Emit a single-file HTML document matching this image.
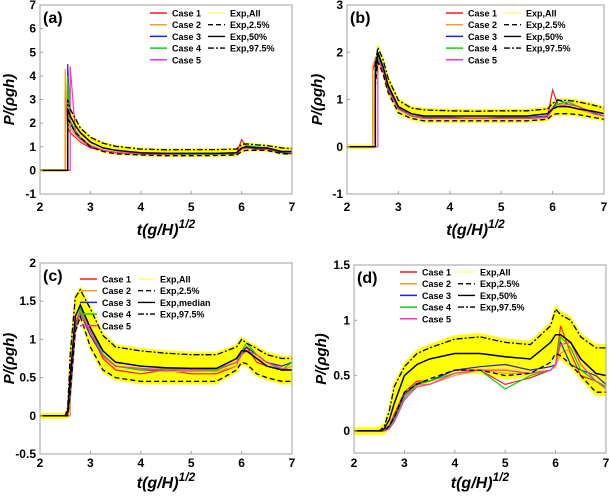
<!DOCTYPE html>
<html><head><meta charset="utf-8">
<style>
body{margin:0;background:#fff;}
svg text{font-family:"Liberation Sans",sans-serif;font-weight:bold;}
</style></head>
<body>
<svg id="fig" width="609" height="492" xmlns="http://www.w3.org/2000/svg"></svg>
<script>
const T = [2,2.5,2.55,2.6,2.7,2.8,3,3.25,3.5,4,4.5,5,5.5,5.9,6,6.1,6.3,6.5,6.8,7];
const xTicks = [2,3,4,5,6,7];
// panel a
const aMed=[0,0,2.6,2.3,1.9,1.6,1.2,0.95,0.85,0.75,0.72,0.72,0.72,0.75,0.95,1.0,0.95,0.95,0.8,0.8];
const aLo=[0,0,2.2,2.0,1.6,1.4,1.0,0.8,0.7,0.65,0.62,0.62,0.63,0.65,0.8,0.85,0.85,0.85,0.7,0.7];
const aHi=[0,0,3.0,2.6,2.2,1.8,1.4,1.15,1.02,0.9,0.87,0.88,0.88,0.9,1.1,1.12,1.08,1.05,0.95,0.92];
const aC1=[0,3.4,1.8,1.6,1.4,1.2,0.95,0.85,0.75,0.7,0.68,0.7,0.7,0.72,1.3,1.0,0.9,0.9,0.75,0.75];
const aC2=[0,4.3,2.0,1.8,1.5,1.3,1.0,0.85,0.78,0.7,0.7,0.7,0.7,0.72,0.95,1.05,0.95,0.95,0.8,0.75];
const aC3=[0,0,4.5,2.0,1.6,1.35,1.0,0.85,0.75,0.7,0.68,0.7,0.68,0.7,0.9,0.95,0.9,0.9,0.75,0.7];
const aC4=[0,0,4.0,2.1,1.7,1.4,1.05,0.85,0.75,0.68,0.67,0.68,0.68,0.7,0.9,1.05,1.0,0.95,0.8,0.75];
const aC5=[0,0,0,4.4,1.7,1.4,1.05,0.85,0.75,0.7,0.68,0.7,0.7,0.72,0.9,0.95,0.92,0.9,0.8,0.75];
const aYTicks=[-1,0,1,2,3,4,5,6,7];
// panel b
const bMed=[0,0,1.5,2.0,1.7,1.3,0.85,0.7,0.65,0.65,0.65,0.65,0.65,0.7,0.8,0.85,0.85,0.8,0.75,0.7];
const bLo=[0,0,1.3,1.8,1.55,1.15,0.72,0.6,0.55,0.55,0.55,0.55,0.55,0.58,0.68,0.7,0.7,0.68,0.62,0.58];
const bHi=[0,0,1.7,2.1,1.85,1.45,0.98,0.82,0.78,0.76,0.75,0.76,0.76,0.8,0.92,0.98,0.98,0.95,0.88,0.82];
const bC1=[0,1.6,1.8,1.9,1.6,1.2,0.8,0.65,0.6,0.6,0.6,0.6,0.6,0.62,1.2,0.9,0.85,0.8,0.7,0.65];
const bC2=[0,1.7,1.9,1.9,1.6,1.2,0.8,0.65,0.6,0.6,0.62,0.6,0.6,0.65,0.85,0.9,0.85,0.8,0.7,0.65];
const bC3=[0,0,1.8,1.95,1.65,1.25,0.82,0.66,0.62,0.62,0.6,0.62,0.62,0.65,0.8,1.0,0.9,0.85,0.72,0.65];
const bC4=[0,0,1.7,1.9,1.6,1.2,0.8,0.66,0.6,0.6,0.6,0.6,0.6,0.63,0.8,0.9,0.95,0.85,0.7,0.65];
const bC5=[0,0,0,1.85,1.6,1.2,0.8,0.65,0.6,0.6,0.6,0.6,0.6,0.63,0.8,0.85,0.9,0.85,0.7,0.65];
const bYTicks=[-1,0,1,2,3];
// panel c
const cMed=[0,0,0.05,0.5,1.3,1.45,1.15,0.85,0.7,0.65,0.63,0.62,0.62,0.75,0.85,0.85,0.75,0.65,0.6,0.6];
const cLo=[0,0,0,0.3,1.1,1.3,0.9,0.6,0.5,0.45,0.45,0.45,0.45,0.6,0.7,0.68,0.55,0.5,0.45,0.45];
const cHi=[0,0,0.1,0.8,1.55,1.65,1.4,1.05,0.9,0.85,0.82,0.8,0.8,0.9,1.0,0.95,0.88,0.8,0.75,0.75];
const cC1=[0,0,0,0.4,1.2,1.4,1.1,0.75,0.6,0.55,0.6,0.55,0.55,0.65,0.85,0.9,0.7,0.65,0.6,0.6];
const cC2=[0,0,0,0.45,1.25,1.38,1.1,0.8,0.65,0.6,0.58,0.58,0.58,0.65,0.8,0.85,0.75,0.7,0.6,0.65];
const cC3=[0,0,0,0.3,1.15,1.35,1.05,0.78,0.65,0.6,0.6,0.6,0.6,0.7,0.8,0.9,0.8,0.7,0.65,0.7];
const cC4=[0,0,0,0.2,1.1,1.4,1.15,0.8,0.65,0.6,0.62,0.6,0.6,0.7,0.85,0.95,0.8,0.7,0.6,0.7];
const cC5=[0,0,0,0.25,1.1,1.35,1.1,0.78,0.65,0.62,0.6,0.6,0.62,0.7,0.8,0.85,0.8,0.7,0.62,0.6];
const cYTicks=[-0.5,0,0.5,1,1.5,2];
// panel d
const dMed=[0,0,0,0.02,0.1,0.25,0.5,0.6,0.65,0.7,0.7,0.67,0.65,0.8,0.87,0.87,0.8,0.65,0.52,0.5];
const dLo=[0,0,0,0,0.05,0.12,0.35,0.42,0.47,0.55,0.55,0.5,0.52,0.62,0.7,0.68,0.6,0.5,0.35,0.35];
const dHi=[0,0,0.02,0.04,0.18,0.4,0.58,0.7,0.75,0.83,0.85,0.8,0.78,0.95,1.1,1.05,1.0,0.85,0.75,0.75];
const dC1=[0,0,0,0,0.05,0.15,0.35,0.45,0.45,0.55,0.55,0.42,0.48,0.55,0.6,0.95,0.7,0.5,0.45,0.4];
const dC2=[0,0,0,0,0.03,0.12,0.32,0.42,0.42,0.5,0.55,0.52,0.52,0.55,0.58,0.7,0.75,0.55,0.45,0.38];
const dC3=[0,0,0,0,0.04,0.12,0.33,0.43,0.45,0.55,0.58,0.6,0.55,0.58,0.6,0.8,0.6,0.55,0.5,0.42];
const dC4=[0,0,0,0,0.02,0.1,0.3,0.42,0.45,0.52,0.55,0.38,0.5,0.55,0.6,0.85,0.75,0.55,0.45,0.4];
const dC5=[0,0,0,0,0.02,0.08,0.28,0.4,0.42,0.52,0.55,0.55,0.52,0.55,0.6,0.78,0.8,0.6,0.45,0.38];
const dYTicks=[0,0.5,1,1.5];
const caseNames=["Case 1","Case 2","Case 3","Case 4","Case 5"];
const caseColors=["#ff1a1a","#f7a21b","#2020e0","#10d010","#ff30d0"];

const NS="http://www.w3.org/2000/svg";
const svg=document.getElementById('fig');
function mk(tag,attrs,parent){const e=document.createElementNS(NS,tag);for(const k in attrs)e.setAttribute(k,attrs[k]);(parent||svg).appendChild(e);return e;}

const panels=[
 {id:'a',L:40,R:292,Tp:5,B:194,ymin:-1,ymax:7,yt:aYTicks,med:aMed,lo:aLo,hi:aHi,cases:[aC1,aC2,aC3,aC4,aC5],lgx:150,lgy:13,ylx:14,xty:211,xly:235,m4:"Exp,50%"},
 {id:'b',L:347,R:604,Tp:5,B:194,ymin:-1,ymax:3,yt:bYTicks,med:bMed,lo:bLo,hi:bHi,cases:[bC1,bC2,bC3,bC4,bC5],lgx:446,lgy:13,ylx:322,xty:211,xly:235,m4:"Exp,50%"},
 {id:'c',L:40,R:292,Tp:263,B:454,ymin:-0.5,ymax:2,yt:cYTicks,med:cMed,lo:cLo,hi:cHi,cases:[cC1,cC2,cC3,cC4,cC5],lgx:80,lgy:279,ylx:14,xty:467,xly:488,m4:"Exp,median"},
 {id:'d',L:354,R:606,Tp:265,B:453,ymin:-0.2,ymax:1.5,yt:dYTicks,med:dMed,lo:dLo,hi:dHi,cases:[dC1,dC2,dC3,dC4,dC5],lgx:400,lgy:272,ylx:326,xty:467,xly:488,m4:"Exp,50%"}
];

panels.forEach(p=>{
 const g=mk('g',{});
 
 
 const X=t=>p.L+(t-2)/5*(p.R-p.L);
 const Y=v=>p.B-(v-p.ymin)/(p.ymax-p.ymin)*(p.B-p.Tp);
 const clipId='clip'+p.id;
 const cp=mk('clipPath',{id:clipId},g);mk('rect',{x:p.L,y:p.Tp,width:p.R-p.L,height:p.B-p.Tp},cp);
 const plot=mk('g',{'clip-path':'url(#'+clipId+')'},g);
 function pts(arr){const out=[];for(let i=0;i<T.length;i++){if(i>0&&arr[i-1]===0&&arr[i]>0.3)out.push(X(T[i]).toFixed(1)+','+Y(0).toFixed(1));out.push(X(T[i]).toFixed(1)+','+Y(arr[i]).toFixed(1));}return out;}
 const up=[],dn=[];
 for(let i=0;i<T.length;i++){up.push(X(T[i]).toFixed(1)+','+Y(p.hi[i]+0.03).toFixed(1));}
 for(let i=T.length-1;i>=0;i--){dn.push(X(T[i]).toFixed(1)+','+Y(p.lo[i]-0.03).toFixed(1));}
 const band=mk('polygon',{points:up.concat(dn).join(' '),fill:'#ffff00',stroke:'#ffff30','stroke-width':1.5},plot);
 
 
 p.cases.forEach((c,k)=>{
  const l=mk('polyline',{points:pts(c).join(' '),fill:'none',stroke:caseColors[k],'stroke-width':1.2},plot);
  
  
 });
 const lo=mk('polyline',{points:pts(p.lo).join(' '),fill:'none',stroke:'#000','stroke-width':1.3,'stroke-dasharray':'5,3'},plot);
 
 
 const hi=mk('polyline',{points:pts(p.hi).join(' '),fill:'none',stroke:'#000','stroke-width':1.3,'stroke-dasharray':'6,2,2,2'},plot);
 
 
 const md=mk('polyline',{points:pts(p.med).join(' '),fill:'none',stroke:'#000','stroke-width':1.5},plot);
 
 
 const fr=mk('rect',{x:p.L,y:p.Tp,width:p.R-p.L,height:p.B-p.Tp,fill:'none',stroke:'#a0a0a0','stroke-width':1},g);
 
 
 xTicks.forEach(t=>{
  mk('line',{x1:X(t),x2:X(t),y1:p.B,y2:p.B-3,stroke:'#a0a0a0'},g);
  const tx=mk('text',{x:X(t),y:p.xty,'text-anchor':'middle','font-size':12},g);tx.textContent=t;
  
  
 });
 p.yt.forEach(v=>{
  mk('line',{x1:p.L,x2:p.L+3,y1:Y(v),y2:Y(v),stroke:'#a0a0a0'},g);
  const tx=mk('text',{x:p.L-4,y:Y(v)+4,'text-anchor':'end','font-size':12},g);tx.textContent=v;
  
  
 });
 const xl=mk('text',{x:(p.L+p.R)/2,y:p.xly,'text-anchor':'middle','font-size':16,'font-style':'italic'},g);
 xl.innerHTML='t(g/H)<tspan dy="-7" font-size="12">1/2</tspan>';
 
 
 const yl=mk('text',{x:p.ylx,y:(p.Tp+p.B)/2,'text-anchor':'middle','font-size':15,'font-style':'italic',transform:'rotate(-90 '+p.ylx+' '+((p.Tp+p.B)/2)+')'},g);
 yl.textContent='P/(ρgh)';
 
 
 const pl=mk('text',{x:p.L+3,y:p.Tp+18,'font-size':16},g);pl.textContent='('+p.id+')';
 
 
 const lg=mk('g',{},g);
 
 
 caseNames.forEach((n,k)=>{
  const yy=p.lgy+k*11.7;
  mk('line',{x1:p.lgx,x2:p.lgx+17,y1:yy,y2:yy,stroke:caseColors[k],'stroke-width':1.5},lg);
  const t=mk('text',{x:p.lgx+22,y:yy+3.5,'font-size':9},lg);t.textContent=n;
  
  
 });
 const c2=[["Exp,All",'#ffff80',null],["Exp,2.5%",'#000','5,3'],[p.m4,'#000',null],["Exp,97.5%",'#000','6,2,2,2']];
 c2.forEach((e,k)=>{
  const yy=p.lgy+k*11.7,x0=p.lgx+58;
  const a={x1:x0,x2:x0+17,y1:yy,y2:yy,stroke:e[1],'stroke-width':1.4};if(e[2])a['stroke-dasharray']=e[2];
  mk('line',a,lg);
  const t=mk('text',{x:x0+22,y:yy+3.5,'font-size':9},lg);t.textContent=e[0];
  
  
 });
});
</script>
</body></html>
